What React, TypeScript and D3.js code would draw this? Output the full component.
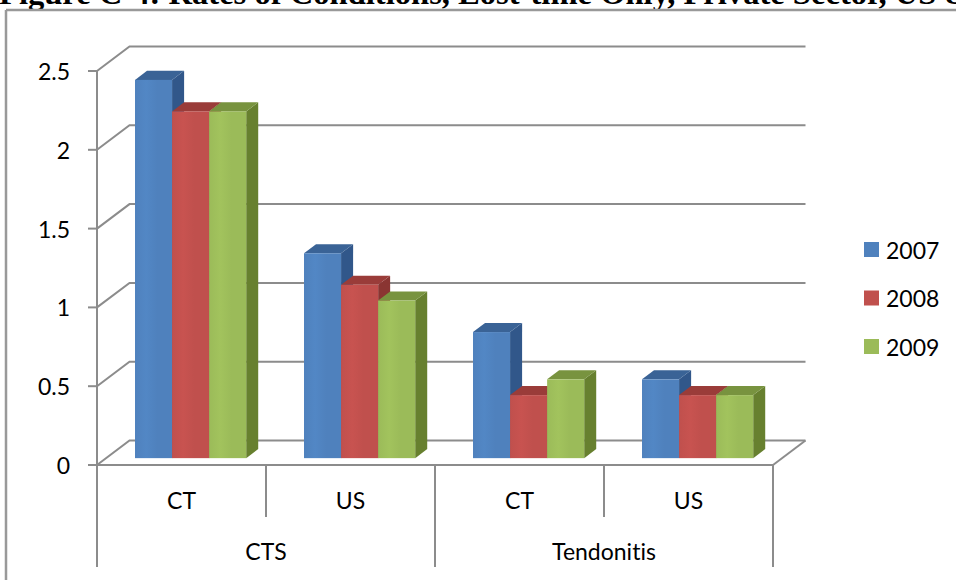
import React from "react";
import * as d3 from "d3";

const groups = ["CTS", "Tendonitis"];
const subCategories = ["CT", "US"];
const seriesNames = ["2007", "2008", "2009"];
// values per leaf category: CTS-CT, CTS-US, Tendonitis-CT, Tendonitis-US
const values2007 = [2.4, 1.3, 0.8, 0.5];
const values2008 = [2.2, 1.1, 0.4, 0.4];
const values2009 = [2.2, 1.0, 0.5, 0.4];
const yTicks = [0, 0.5, 1, 1.5, 2, 2.5];
const yTickLabels = ["0", "0.5", "1", "1.5", "2", "2.5"];
const titleText = "Figure C-4: Rates of Conditions, Lost-time Only, Private Sector, US & Canada";

const frontColors = ["#4F81BD", "#C0504D", "#9BBB59"];
const topColors = ["#3A6396", "#9A3C39", "#78933F"];
const sideColors = ["#31578A", "#8A3532", "#67802F"];

const W = 956;
const H = 580;
const X0 = 97;
const X1 = 773;
const Y0 = 465;
const Y1 = 71;
const DX = 32.5;
const DY = -24.5;
const F0 = 0.28; // bar front depth fraction
const F1 = 0.65; // bar back depth fraction
const GRID = "#8c8c8c";
const FONT = "Lato, 'Open Sans', sans-serif";

export default function App() {
  const leaves = groups.flatMap((g) => subCategories.map((s) => `${g}|${s}`));
  const x = d3.scaleBand<string>().domain(leaves).range([X0, X1]).padding(0);
  const xSub = d3
    .scaleBand<string>()
    .domain(seriesNames)
    .range([0, x.bandwidth()])
    .paddingInner(0)
    .paddingOuter(0.78);
  const y = d3.scaleLinear().domain([0, 2.5]).range([Y0, Y1]);
  const seriesValues = [values2007, values2008, values2009];

  const fx = F0 * DX;
  const fy = F0 * DY;
  const bdx = (F1 - F0) * DX;
  const bdy = (F1 - F0) * DY;

  const bars: JSX.Element[] = [];
  leaves.forEach((leaf, ci) => {
    seriesNames.forEach((s, si) => {
      const v = seriesValues[si][ci];
      const xl = (x(leaf) as number) + (xSub(s) as number) + fx;
      const w = xSub.bandwidth();
      const yb = Y0 + fy;
      const yt = y(v) + fy;
      const xr = xl + w;
      const side = `M${xr},${yb} L${xr + bdx},${yb + bdy} L${xr + bdx},${yt + bdy} L${xr},${yt} Z`;
      const top = `M${xl},${yt} L${xl + bdx},${yt + bdy} L${xr + bdx},${yt + bdy} L${xr},${yt} Z`;
      bars.push(
        <g key={`${leaf}-${s}`}>
          <path d={side} fill={sideColors[si]} />
          <path d={top} fill={topColors[si]} />
          <rect x={xl} y={yt} width={w} height={yb - yt} fill={`url(#grad${si})`} />
        </g>
      );
    });
  });

  const groupBounds = groups.map((g) => {
    const first = x(`${g}|${subCategories[0]}`) as number;
    const last = (x(`${g}|${subCategories[subCategories.length - 1]}`) as number) + x.bandwidth();
    return { g, first, last };
  });

  const textStyle = { fontVariantLigatures: "none" as const };

  return (
    <svg
      width={W}
      height={H}
      style={{ position: "absolute", left: 0, top: 0, background: "#fff" }}
    >
      <defs>
        {frontColors.map((c, i) => (
          <linearGradient key={i} id={`grad${i}`} x1="0" x2="1" y1="0" y2="0">
            <stop offset="0" stopColor={c} />
            <stop offset="0.3" stopColor={d3.color(c)!.brighter(0.12).formatHex()} />
            <stop offset="0.6" stopColor={c} />
            <stop offset="1" stopColor={c} />
          </linearGradient>
        ))}
      </defs>
      <rect x={0} y={0} width={W} height={H} fill="#fff" />
      <text
        x={-1}
        y={4}
        fontFamily="'Liberation Serif', 'Times New Roman', serif"
        fontWeight="bold"
        fontSize={32.6}
        fill="#000"
      >
        {titleText}
      </text>
      {/* frame */}
      <line x1={6} y1={10} x2={W} y2={10} stroke="#999" strokeWidth={2.5} />
      <line x1={6} y1={10} x2={6} y2={H} stroke="#999" strokeWidth={2.5} />

      {/* gridlines with left wall diagonals */}
      {yTicks.map((t) => (
        <path
          key={`g${t}`}
          d={`M${X0},${y(t)} L${X0 + DX},${y(t) + DY} L${X1 + DX},${y(t) + DY}`}
          fill="none"
          stroke={GRID}
          strokeWidth={2}
        />
      ))}
      {/* floor right edge */}
      <line x1={X1} y1={Y0} x2={X1 + DX} y2={Y0 + DY} stroke={GRID} strokeWidth={2} />
      {/* y axis */}
      <line x1={X0} y1={y(2.5)} x2={X0} y2={Y0} stroke={GRID} strokeWidth={2} />
      {yTicks.map((t, i) => (
        <g key={`t${t}`}>
          <line x1={X0 - 9} y1={y(t)} x2={X0} y2={y(t)} stroke={GRID} strokeWidth={2} />
          <text
            x={70}
            y={y(t)}
            textAnchor="end"
            dominantBaseline="central"
            fontFamily={FONT}
            fontSize={23}
            fill="#000"
          >
            {yTickLabels[i]}
          </text>
        </g>
      ))}

      {bars}

      {/* floor front edge / x axis */}
      <line x1={X0} y1={Y0} x2={X1} y2={Y0} stroke={GRID} strokeWidth={2} />

      {/* category separators */}
      {leaves.map((leaf, i) => {
        const xs = x(leaf) as number;
        const isGroupStart = i % subCategories.length === 0;
        return (
          <line
            key={`sep${leaf}`}
            x1={xs}
            y1={Y0}
            x2={xs}
            y2={isGroupStart ? 567 : 517}
            stroke={GRID}
            strokeWidth={2}
          />
        );
      })}
      <line x1={X1} y1={Y0} x2={X1} y2={567} stroke={GRID} strokeWidth={2} />

      {leaves.map((leaf) => (
        <text
          key={`l${leaf}`}
          x={(x(leaf) as number) + x.bandwidth() / 2}
          y={500}
          textAnchor="middle"
          dominantBaseline="central"
          fontFamily={FONT}
          fontSize={23}
          fill="#000"
          style={textStyle}
        >
          {leaf.split("|")[1]}
        </text>
      ))}
      {groupBounds.map((b) => (
        <text
          key={`gl${b.g}`}
          x={(b.first + b.last) / 2}
          y={551}
          textAnchor="middle"
          dominantBaseline="central"
          fontFamily={FONT}
          fontSize={23}
          fill="#000"
          style={textStyle}
        >
          {b.g}
        </text>
      ))}

      {/* legend */}
      {seriesNames.map((s, i) => (
        <g key={`lg${s}`} transform={`translate(864, ${242 + i * 48.5})`}>
          <rect x={0} y={0} width={15} height={15} fill={frontColors[i]} />
          <text
            x={22}
            y={7.5}
            dominantBaseline="central"
            fontFamily={FONT}
            fontSize={23}
            fill="#000"
          >
            {s}
          </text>
        </g>
      ))}
    </svg>
  );
}
